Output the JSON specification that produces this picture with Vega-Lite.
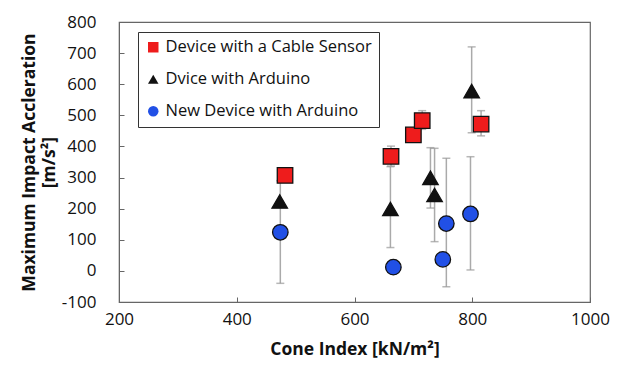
{
  "$schema": "https://vega.github.io/schema/vega-lite/v6.json",
  "width": 471,
  "height": 280,
  "autosize": "none",
  "padding": {"left": 119, "top": 22, "right": 32, "bottom": 66},
  "background": "white",
  "config": {
    "font": "Open Sans",
    "view": {"stroke": "#666", "strokeWidth": 1.2},
    "axis": {
      "labelFont": "Open Sans",
      "labelFontSize": 17,
      "labelColor": "#111",
      "labelOverlap": false,
      "labelFlush": false,
      "titleFont": "Open Sans",
      "titleFontSize": 17.5,
      "titleFontWeight": "bold",
      "titleColor": "#111",
      "grid": false,
      "domainColor": "#666",
      "tickColor": "#666",
      "tickSize": -5
    }
  },
  "data": {
    "values": [
      {"series": "Device with a Cable Sensor", "ci": 482, "acc": 307},
      {"series": "Device with a Cable Sensor", "ci": 662, "acc": 368, "lo": 337, "hi": 401},
      {"series": "Device with a Cable Sensor", "ci": 700, "acc": 437},
      {"series": "Device with a Cable Sensor", "ci": 715, "acc": 483, "lo": 455, "hi": 515},
      {"series": "Device with a Cable Sensor", "ci": 815, "acc": 472, "lo": 434, "hi": 515},
      {"series": "Dvice with Arduino", "ci": 473, "acc": 223},
      {"series": "Dvice with Arduino", "ci": 661, "acc": 199, "lo": 75, "hi": 335},
      {"series": "Dvice with Arduino", "ci": 729, "acc": 299, "lo": 202, "hi": 396},
      {"series": "Dvice with Arduino", "ci": 736, "acc": 244, "lo": 94, "hi": 394},
      {"series": "Dvice with Arduino", "ci": 799, "acc": 578, "lo": 444, "hi": 720},
      {"series": "New Device with Arduino", "ci": 474, "acc": 124, "lo": -40, "hi": 290},
      {"series": "New Device with Arduino", "ci": 666, "acc": 12},
      {"series": "New Device with Arduino", "ci": 756, "acc": 152, "lo": -51, "hi": 362},
      {"series": "New Device with Arduino", "ci": 750, "acc": 37},
      {"series": "New Device with Arduino", "ci": 797, "acc": 183, "lo": 3, "hi": 367}
    ]
  },
  "encoding": {
    "x": {
      "field": "ci",
      "type": "quantitative",
      "scale": {"domain": [200, 1000], "nice": false, "zero": false},
      "axis": {
        "values": [200, 400, 600, 800, 1000],
        "labelExpr": "'' + datum.value",
        "title": "Cone Index [kN/m²]",
        "labelPadding": 14,
        "titlePadding": 13
      }
    }
  },
  "layer": [
    {
      "transform": [{"filter": "isValid(datum.lo)"}],
      "mark": {"type": "rule", "color": "#aaaaaa", "strokeWidth": 1.5},
      "encoding": {
        "y": {
          "field": "lo", "type": "quantitative",
          "scale": {"domain": [-100, 800], "nice": false, "zero": false},
          "axis": {
            "values": [-100, 0, 100, 200, 300, 400, 500, 600, 700, 800],
            "labelExpr": "'' + datum.value",
            "title": ["Maximum Impact Accleration", "[m/s²]"],
            "labelPadding": 28, "titlePadding": 3, "titleLineHeight": 20
          }
        },
        "y2": {"field": "hi"}
      }
    },
    {
      "transform": [{"filter": "isValid(datum.lo)"}],
      "mark": {"type": "tick", "orient": "horizontal", "color": "#999999", "size": 8, "thickness": 1.5},
      "encoding": {
        "y": {
          "field": "lo", "type": "quantitative",
          "scale": {"domain": [-100, 800], "nice": false, "zero": false},
          "axis": {
            "values": [-100, 0, 100, 200, 300, 400, 500, 600, 700, 800],
            "labelExpr": "'' + datum.value",
            "title": ["Maximum Impact Accleration", "[m/s²]"],
            "labelPadding": 28, "titlePadding": 3, "titleLineHeight": 20
          }
        }
      }
    },
    {
      "transform": [{"filter": "isValid(datum.lo)"}],
      "mark": {"type": "tick", "orient": "horizontal", "color": "#999999", "size": 8, "thickness": 1.5},
      "encoding": {
        "y": {
          "field": "hi", "type": "quantitative",
          "scale": {"domain": [-100, 800], "nice": false, "zero": false},
          "axis": {
            "values": [-100, 0, 100, 200, 300, 400, 500, 600, 700, 800],
            "labelExpr": "'' + datum.value",
            "title": ["Maximum Impact Accleration", "[m/s²]"],
            "labelPadding": 28, "titlePadding": 3, "titleLineHeight": 20
          }
        }
      }
    },
    {
      "mark": {"type": "point", "filled": true, "stroke": "#111", "strokeWidth": 1.3, "opacity": 1, "size": 240},
      "encoding": {
        "y": {
          "field": "acc", "type": "quantitative",
          "scale": {"domain": [-100, 800], "nice": false, "zero": false},
          "axis": {
            "values": [-100, 0, 100, 200, 300, 400, 500, 600, 700, 800],
            "labelExpr": "'' + datum.value",
            "title": ["Maximum Impact Accleration", "[m/s²]"],
            "labelPadding": 28, "titlePadding": 3, "titleLineHeight": 20
          }
        },
        "shape": {
          "field": "series",
          "type": "nominal",
          "scale": {
            "domain": ["Device with a Cable Sensor", "Dvice with Arduino", "New Device with Arduino"],
            "range": ["square", "triangle-up", "circle"]
          },
          "legend": null
        },
        "color": {
          "field": "series",
          "type": "nominal",
          "scale": {
            "domain": ["Device with a Cable Sensor", "Dvice with Arduino", "New Device with Arduino"],
            "range": ["#ee1c1c", "#111111", "#2150e6"]
          },
          "legend": {
            "title": null,
            "orient": "none",
            "legendX": 19,
            "legendY": 10,
            "strokeColor": "#333",
            "fillColor": "white",
            "padding": 7,
            "labelFont": "Open Sans",
            "labelFontSize": 16.5,
            "labelColor": "#111",
            "symbolSize": 110,
            "symbolStrokeWidth": 0,
            "rowPadding": 15,
            "labelOffset": 4,
            "labelLimit": 300
          }
        }
      }
    }
  ]
}
